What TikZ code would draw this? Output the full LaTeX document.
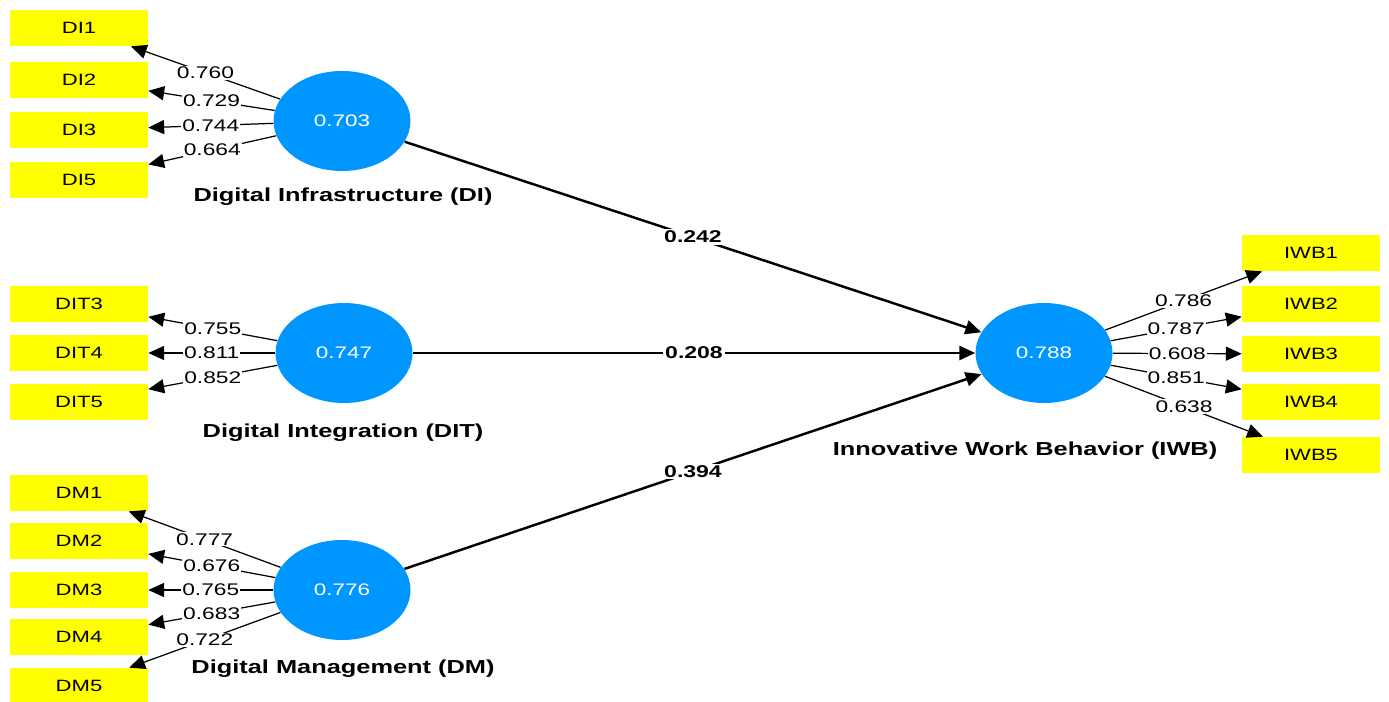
\documentclass[tikz,border=0pt]{standalone}
\usepackage{fontspec}
\setmainfont{Liberation Sans}[FakeStretch=1.35]
\usetikzlibrary{shapes.geometric,arrows.meta,positioning}
\definecolor{lvblue}{RGB}{0,150,255}
\definecolor{mvyellow}{RGB}{255,255,0}
\tikzset
{
    latent/.style    = {ellipse, fill=lvblue, text=white, minimum width=2.74cm, minimum height=2cm, inner sep=0pt, font=\fontsize{9.5}{10}\selectfont},
    indicator/.style = {rectangle, fill=mvyellow, minimum width=2.76cm, minimum height=0.72cm, inner sep=0pt, font=\fontsize{9.3}{10}\selectfont},
    loading/.style   = {fill=white, inner sep=0.6pt, font=\fontsize{9.6}{10}\selectfont},
    pathcoef/.style  = {fill=white, inner sep=1pt, font=\bfseries\fontsize{9.7}{10}\selectfont},
    caption/.style   = {font=\bfseries\fontsize{10.7}{12}\selectfont},
    outer/.style     = {->, line width=0.7pt},
    inner/.style     = {->, line width=1.4pt}
}

\begin{document}
\begin{tikzpicture}[x=0.02cm, y=-0.02cm, >={Triangle[length=9pt,width=8pt]}]
    \useasboundingbox (0,0) rectangle (1389,702);
    % latent variables
    \node [latent] (DI)  at (342,121)  {0.703};
    \node [latent] (DIT) at (344,353)  {0.747};
    \node [latent] (DM)  at (342,590)  {0.776};
    \node [latent] (IWB) at (1044,353) {0.788};
    \node [caption] (DIname)  at (343,197)  {Digital Infrastructure (DI)};
    \node [caption] (DITname) at (343,433)  {Digital Integration (DIT)};
    \node [caption] (DMname)  at (343,669)  {Digital Management (DM)};
    \node [caption] (IWBname) at (1025,451) {Innovative Work Behavior (IWB)};
    % indicators
    \foreach \name/\y/\val in {DI1/28/0.760, DI2/80/0.729, DI3/130/0.744, DI5/180/0.664}
    {
        \node [indicator] (\name) at (79,\y) {\name};
        \draw [outer] (DI) -- node [loading] {\val} (\name);
    }
    \foreach \name/\y/\val in {DIT3/304/0.755, DIT4/353/0.811, DIT5/402/0.852}
    {
        \node [indicator] (\name) at (79,\y) {\name};
        \draw [outer] (DIT) -- node [loading] {\val} (\name);
    }
    \foreach \name/\y/\val in {DM1/493/0.777, DM2/541/0.676, DM3/590/0.765, DM4/637/0.683, DM5/686/0.722}
    {
        \node [indicator] (\name) at (79,\y) {\name};
        \draw [outer] (DM) -- node [loading] {\val} (\name);
    }
    \foreach \name/\y/\val in {IWB1/253/0.786, IWB2/304/0.787, IWB3/354/0.608, IWB4/402/0.851, IWB5/455/0.638}
    {
        \node [indicator] (\name) at (1311,\y) {\name};
        \draw [outer] (IWB) -- node [loading] {\val} (\name);
    }
    % structural paths
    \draw [inner] (DI)  -- node [pathcoef] {0.242} (IWB);
    \draw [inner] (DIT) -- node [pathcoef] {0.208} (IWB);
    \draw [inner] (DM)  -- node [pathcoef] {0.394} (IWB);
\end{tikzpicture}
\end{document}
